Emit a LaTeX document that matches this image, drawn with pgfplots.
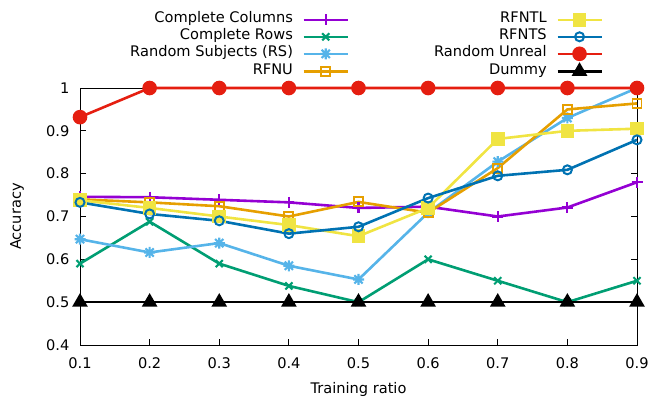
\documentclass[border=0pt]{standalone}
\usepackage{pgfplots}
\pgfplotsset{compat=1.18}
\usepackage{fontspec}
\setmainfont{DejaVu Sans}
\definecolor{cPurple}{HTML}{9400D3}
\definecolor{cGreen}{HTML}{009E73}
\definecolor{cLBlue}{HTML}{56B4E9}
\definecolor{cOrange}{HTML}{E69F00}
\definecolor{cYellow}{HTML}{F0E442}
\definecolor{cBlue}{HTML}{0072B2}
\definecolor{cRed}{HTML}{E51E10}
\pgfdeclareplotmark{plusx}{%
  \pgfpathmoveto{\pgfqpoint{-\pgfplotmarksize}{0pt}}\pgfpathlineto{\pgfqpoint{\pgfplotmarksize}{0pt}}%
  \pgfpathmoveto{\pgfqpoint{0pt}{-\pgfplotmarksize}}\pgfpathlineto{\pgfqpoint{0pt}{\pgfplotmarksize}}%
  \pgfpathmoveto{\pgfqpoint{-0.75\pgfplotmarksize}{-0.75\pgfplotmarksize}}\pgfpathlineto{\pgfqpoint{0.75\pgfplotmarksize}{0.75\pgfplotmarksize}}%
  \pgfpathmoveto{\pgfqpoint{-0.75\pgfplotmarksize}{0.75\pgfplotmarksize}}\pgfpathlineto{\pgfqpoint{0.75\pgfplotmarksize}{-0.75\pgfplotmarksize}}%
  \pgfusepathqstroke}
\newcommand{\fs}{\fontsize{14.6bp}{16bp}\selectfont}
\begin{document}
\begin{tikzpicture}[font=\fs]
\begin{axis}[
  name=ax,
  scale only axis, width=557bp, height=257bp,
  xmin=0.1, xmax=0.9, ymin=0.4, ymax=1,
  xtick={0.1,0.2,0.3,0.4,0.5,0.6,0.7,0.8,0.9},
  ytick={0.4,0.5,0.6,0.7,0.8,0.9,1},
  /pgf/number format/assume math mode=true,
  tick label style={font=\fs},
  yticklabel style={anchor=east, inner xsep=0pt, xshift=-10.5bp},
  xticklabel style={anchor=base, yshift=-23.3bp},
  major tick length=6bp,
  tick style={black, line width=0.8bp},
  axis line style={line width=0.9bp},
  every axis y label/.style={at={(axis description cs:-0.113,0.5)},rotate=90,anchor=center},
  every axis x label/.style={at={(axis description cs:0.5,-0.188)},anchor=base},
  xlabel={Training ratio}, ylabel={Accuracy},
  clip=false,
  every axis plot/.append style={line width=2.6bp},
  legend columns=4, transpose legend,
  legend plot pos=right,
  legend cell align=right,
  legend image code/.code={\draw[mark repeat=2,mark phase=2,#1] plot coordinates {(0bp,0bp) (22bp,0bp) (44bp,0bp)};},
  legend style={at={(axis description cs:0.0898,1.2895)}, anchor=north west, draw=none, fill=none,
    inner sep=0pt, row sep=5bp,
    nodes={inner sep=0pt, text height=9bp, text depth=3bp},
    /tikz/every odd column/.append style={column sep=9.5bp},
    /tikz/every even column/.append style={column sep=85bp},
    font=\fs},
]
\addplot[cPurple, mark=+, mark size=5.5bp, mark options={solid,line width=2.1bp}] coordinates {
(0.1,0.746) (0.2,0.745) (0.3,0.739) (0.4,0.733) (0.5,0.720) (0.6,0.723) (0.7,0.700) (0.8,0.721) (0.9,0.780)};
\addlegendentry{Complete Columns}
\addplot[cGreen, mark=x, mark size=5bp, mark options={solid,line width=2.1bp}] coordinates {
(0.1,0.590) (0.2,0.688) (0.3,0.590) (0.4,0.538) (0.5,0.500) (0.6,0.600) (0.7,0.550) (0.8,0.500) (0.9,0.550)};
\addlegendentry{Complete Rows}
\addplot[cLBlue, mark=plusx, mark size=5.5bp, mark options={solid,line width=2.1bp}] coordinates {
(0.1,0.647) (0.2,0.616) (0.3,0.638) (0.4,0.585) (0.5,0.553) (0.6,0.709) (0.7,0.828) (0.8,0.930) (0.9,1.000)};
\addlegendentry{Random Subjects (RS)}
\addplot[cOrange, mark=square, mark size=4.5bp, mark options={solid,line width=1.9bp}] coordinates {
(0.1,0.740) (0.2,0.733) (0.3,0.724) (0.4,0.700) (0.5,0.734) (0.6,0.709) (0.7,0.813) (0.8,0.950) (0.9,0.964)};
\addlegendentry{RFNU}
\addplot[cYellow, mark=square*, mark size=5.5bp, mark options={solid}] coordinates {
(0.1,0.738) (0.2,0.720) (0.3,0.700) (0.4,0.680) (0.5,0.654) (0.6,0.720) (0.7,0.881) (0.8,0.900) (0.9,0.905)};
\addlegendentry{RFNTL}
\addplot[cBlue, mark=o, mark size=4.5bp, mark options={solid,line width=2bp}] coordinates {
(0.1,0.733) (0.2,0.706) (0.3,0.690) (0.4,0.660) (0.5,0.676) (0.6,0.743) (0.7,0.795) (0.8,0.809) (0.9,0.879)};
\addlegendentry{RFNTS}
\addplot[cRed, mark=*, mark size=6bp, mark options={solid}] coordinates {
(0.1,0.932) (0.2,1.000) (0.3,1.000) (0.4,1.000) (0.5,1.000) (0.6,1.000) (0.7,1.000) (0.8,1.000) (0.9,1.000)};
\addlegendentry{Random Unreal}
\addplot[black, mark=triangle*, mark size=6.5bp, mark options={solid}] coordinates {
(0.1,0.5) (0.2,0.5) (0.3,0.5) (0.4,0.5) (0.5,0.5) (0.6,0.5) (0.7,0.5) (0.8,0.5) (0.9,0.5)};
\addlegendentry{Dummy}
\end{axis}
\pgfresetboundingbox
\path[use as bounding box] ([shift={(-80bp,-54bp)}]ax.south west) rectangle ([shift={(27bp,88bp)}]ax.north east);
\end{tikzpicture}
\end{document}
